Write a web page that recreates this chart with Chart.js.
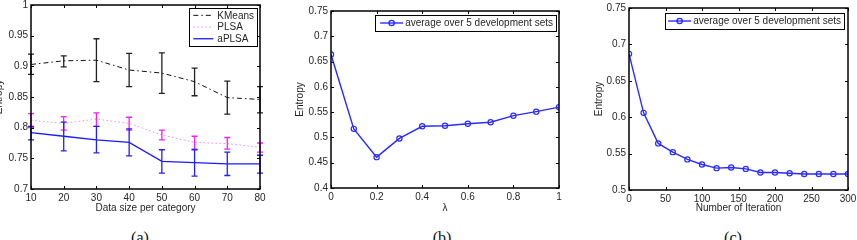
<!DOCTYPE html>
<html>
<head>
<meta charset="utf-8">
<script src="https://cdn.jsdelivr.net/npm/chart.js@4.4.1/dist/chart.umd.min.js"></script>
<style>
  body { margin: 0; background: #fff; width: 857px; height: 240px; overflow: hidden; position: relative; }
  .panel { position: absolute; top: 0; height: 215px; }
  .cap { position: absolute; top: 229px; font: 16px "Liberation Serif", "DejaVu Serif", serif; color: #111; transform: translateX(-50%); }
</style>
</head>
<body>
<div class="panel" style="left:-8px;width:278px"><canvas id="chartA"></canvas></div>
<div class="panel" style="left:280px;width:290px"><canvas id="chartB"></canvas></div>
<div class="panel" style="left:570px;width:287px"><canvas id="chartC"></canvas></div>
<div class="cap" style="left:140px">(a)</div>
<div class="cap" style="left:442px">(b)</div>
<div class="cap" style="left:733px">(c)</div>
<script>
// (a) entropy vs data size
const sizes = [10, 20, 30, 40, 50, 60, 70, 80];
const kmeansMean = [0.903, 0.909, 0.910, 0.894, 0.889, 0.875, 0.849, 0.846];
const kmeansLow  = [0.887, 0.899, 0.875, 0.867, 0.856, 0.852, 0.822, 0.824];
const kmeansHigh = [0.920, 0.917, 0.945, 0.921, 0.922, 0.897, 0.876, 0.867];
const plsaMean = [0.812, 0.807, 0.814, 0.807, 0.788, 0.776, 0.774, 0.768];
const plsaLow  = [0.800, 0.796, 0.802, 0.796, 0.780, 0.765, 0.765, 0.760];
const plsaHigh = [0.823, 0.818, 0.824, 0.817, 0.796, 0.786, 0.784, 0.775];
const aplsaMean = [0.792, 0.786, 0.780, 0.776, 0.745, 0.743, 0.741, 0.741];
const aplsaLow  = [0.780, 0.762, 0.759, 0.754, 0.726, 0.721, 0.722, 0.726];
const aplsaHigh = [0.802, 0.809, 0.802, 0.798, 0.764, 0.764, 0.760, 0.755];
const xTicksA = [10, 20, 30, 40, 50, 60, 70, 80];
const yTicksA = [0.7, 0.75, 0.8, 0.85, 0.9, 0.95, 1];

// (b) entropy vs lambda
const lambdas = [0, 0.1, 0.2, 0.3, 0.4, 0.5, 0.6, 0.7, 0.8, 0.9, 1];
const lambdaEntropy = [0.664, 0.517, 0.461, 0.498, 0.522, 0.523, 0.527, 0.530, 0.543, 0.551, 0.560];
const xTicksB = [0, 0.2, 0.4, 0.6, 0.8, 1];
const yTicksB = [0.4, 0.45, 0.5, 0.55, 0.6, 0.65, 0.7, 0.75];

// (c) entropy vs iterations
const iterations = [0, 20, 40, 60, 80, 100, 120, 140, 160, 180, 200, 220, 240, 260, 280, 300];
const iterEntropy = [0.687, 0.606, 0.564, 0.552, 0.542, 0.535, 0.530, 0.531, 0.529, 0.524, 0.524, 0.523, 0.522, 0.522, 0.522, 0.522];
const xTicksC = [0, 50, 100, 150, 200, 250, 300];
const yTicksC = [0.5, 0.55, 0.6, 0.65, 0.7, 0.75];

const FONT = { family: '"Liberation Sans", Arial, sans-serif', size: 10 };
const INK = '#262626';
const BLUE = '#2b2bff';

const pts = (xs, ys) => xs.map((x, i) => ({ x: x, y: ys[i] }));
const fmt = v => String(Number(v.toFixed(2)));

// box + inward ticks, matlab style
const framePlugin = {
  id: 'frame',
  afterDatasetsDraw(chart) {
    const { ctx, chartArea: a, scales } = chart;
    ctx.save();
    ctx.strokeStyle = '#000';
    ctx.lineWidth = 1.5;
    ctx.strokeRect(Math.round(a.left), Math.round(a.top), Math.round(a.right - a.left), Math.round(a.bottom - a.top));
    ctx.lineWidth = 1;
    ctx.beginPath();
    scales.x.ticks.forEach(t => {
      const px = Math.round(scales.x.getPixelForValue(t.value)) + 0.5;
      ctx.moveTo(px, a.bottom); ctx.lineTo(px, a.bottom - 3);
      ctx.moveTo(px, a.top); ctx.lineTo(px, a.top + 3);
    });
    scales.y.ticks.forEach(t => {
      const py = Math.round(scales.y.getPixelForValue(t.value)) + 0.5;
      ctx.moveTo(a.left, py); ctx.lineTo(a.left + 3, py);
      ctx.moveTo(a.right, py); ctx.lineTo(a.right - 3, py);
    });
    ctx.stroke();
    ctx.restore();
  }
};

// vertical error bars from errLow / errHigh
const errorBarPlugin = {
  id: 'errbars',
  afterDatasetsDraw(chart) {
    const { ctx, scales } = chart;
    chart.data.datasets.forEach(ds => {
      if (!ds.errLow) return;
      ctx.save();
      ctx.strokeStyle = ds.errColor;
      ctx.lineWidth = 1.3;
      ctx.beginPath();
      ds.data.forEach((p, i) => {
        const x = scales.x.getPixelForValue(p.x);
        const y0 = scales.y.getPixelForValue(ds.errLow[i]);
        const y1 = scales.y.getPixelForValue(ds.errHigh[i]);
        ctx.moveTo(x, y0); ctx.lineTo(x, y1);
        ctx.moveTo(x - 3, y0); ctx.lineTo(x + 3, y0);
        ctx.moveTo(x - 3, y1); ctx.lineTo(x + 3, y1);
      });
      ctx.stroke();
      ctx.restore();
    });
  }
};

// legend box in the top right corner
const boxLegendPlugin = {
  id: 'boxLegend',
  afterDraw(chart, args, opts) {
    const { ctx, chartArea: a } = chart;
    const items = chart.data.datasets;
    ctx.save();
    ctx.font = FONT.size + 'px ' + FONT.family;
    const tw = Math.max(...items.map(d => ctx.measureText(d.label).width));
    const right = a.right - opts.insetX;
    const top = a.top + opts.insetY;
    const textLeft = right - 3 - tw;
    const sRight = textLeft - opts.gap;
    const sLeft = sRight - opts.sample;
    const left = sLeft - opts.padL;
    const bottom = top + opts.padT * 2 + opts.rowH * items.length;
    ctx.fillStyle = '#fff';
    ctx.fillRect(left, top, right - left, bottom - top);
    ctx.strokeStyle = '#000';
    ctx.lineWidth = 1;
    ctx.strokeRect(Math.round(left) + 0.5, Math.round(top) + 0.5, Math.round(right - left), Math.round(bottom - top));
    items.forEach((d, i) => {
      const y = top + opts.padT + opts.rowH * (i + 0.5);
      ctx.strokeStyle = d.borderColor;
      ctx.lineWidth = d.borderWidth;
      ctx.setLineDash(d.borderDash || []);
      ctx.beginPath(); ctx.moveTo(sLeft, y); ctx.lineTo(sRight, y); ctx.stroke();
      ctx.setLineDash([]);
      if (d.pointRadius) {
        ctx.beginPath();
        ctx.arc((sLeft + sRight) / 2, y, d.pointRadius, 0, Math.PI * 2);
        ctx.stroke();
      }
      ctx.fillStyle = INK;
      ctx.textBaseline = 'middle';
      ctx.fillText(d.label, textLeft, y + 0.5);
    });
    ctx.restore();
  }
};

function makeChart(id, cfg) {
  return new Chart(document.getElementById(id), {
    type: 'line',
    data: { datasets: cfg.datasets },
    plugins: [errorBarPlugin, framePlugin, boxLegendPlugin],
    options: {
      responsive: true,
      maintainAspectRatio: false,
      animation: false,
      layout: { padding: cfg.padding },
      plugins: {
        legend: { display: false },
        tooltip: { enabled: false },
        boxLegend: cfg.legend
      },
      scales: {
        x: {
          type: 'linear',
          min: cfg.xTicks[0], max: cfg.xTicks[cfg.xTicks.length - 1],
          grid: { display: false, drawTicks: false },
          border: { display: false },
          afterBuildTicks: s => { s.ticks = cfg.xTicks.map(v => ({ value: v })); },
          afterFit: s => { s.height = cfg.xHeight; s.paddingLeft = 0; s.paddingRight = 0; },
          ticks: { font: FONT, color: INK, padding: 3, maxRotation: 0, callback: fmt },
          title: { display: true, text: cfg.xTitle, font: FONT, color: INK, padding: { top: 0, bottom: 1 } }
        },
        y: {
          min: cfg.yTicks[0], max: cfg.yTicks[cfg.yTicks.length - 1],
          grid: { display: false, drawTicks: false },
          border: { display: false },
          afterBuildTicks: s => { s.ticks = cfg.yTicks.map(v => ({ value: v })); },
          afterFit: s => { s.width = cfg.yWidth; s.paddingTop = 0; s.paddingBottom = 0; },
          ticks: { font: FONT, color: INK, padding: 3, callback: fmt },
          title: { display: true, text: 'Entropy', font: FONT, color: INK, padding: { top: cfg.yTitlePad, bottom: 0 } }
        }
      }
    }
  });
}

makeChart('chartA', {
  padding: { left: 0, right: 10, top: 5, bottom: 0 },
  yWidth: 39, xHeight: 26, yTitlePad: 1,
  xTicks: xTicksA, yTicks: yTicksA, xTitle: 'Data size per category',
  legend: { insetX: 3, insetY: 3, padT: 1.5, rowH: 11.7, sample: 20, gap: 4, padL: 4 },
  datasets: [
    { label: 'KMeans', data: pts(sizes, kmeansMean), borderColor: '#111', borderWidth: 1, borderDash: [5, 3, 1.5, 3],
      pointRadius: 0, errLow: kmeansLow, errHigh: kmeansHigh, errColor: '#222' },
    { label: 'PLSA', data: pts(sizes, plsaMean), borderColor: '#f08cf0', borderWidth: 1, borderDash: [1.5, 2.5],
      pointRadius: 0, errLow: plsaLow, errHigh: plsaHigh, errColor: '#ee22ee' },
    { label: 'aPLSA', data: pts(sizes, aplsaMean), borderColor: '#1a1aff', borderWidth: 1.3,
      pointRadius: 0, errLow: aplsaLow, errHigh: aplsaHigh, errColor: '#2222ee' }
  ]
});

makeChart('chartB', {
  padding: { left: 10, right: 11, top: 11, bottom: 0 },
  yWidth: 41, xHeight: 27, yTitlePad: 4,
  xTicks: xTicksB, yTicks: yTicksB, xTitle: 'λ',
  legend: { insetX: 3, insetY: 4, padT: 1, rowH: 14, sample: 23, gap: 2, padL: 5 },
  datasets: [
    { label: 'average over 5 development sets', data: pts(lambdas, lambdaEntropy), borderColor: BLUE, borderWidth: 1.4,
      pointRadius: 2.6, pointBorderColor: BLUE, pointBackgroundColor: 'rgba(0,0,0,0)', pointBorderWidth: 1.2 }
  ]
});

makeChart('chartC', {
  padding: { left: 19, right: 9, top: 8, bottom: 0 },
  yWidth: 40, xHeight: 25, yTitlePad: 4,
  xTicks: xTicksC, yTicks: yTicksC, xTitle: 'Number of Iteration',
  legend: { insetX: 4, insetY: 5, padT: 1, rowH: 14, sample: 23, gap: 2, padL: 3 },
  datasets: [
    { label: 'average over 5 development sets', data: pts(iterations, iterEntropy), borderColor: BLUE, borderWidth: 1.4,
      pointRadius: 2.6, pointBorderColor: BLUE, pointBackgroundColor: 'rgba(0,0,0,0)', pointBorderWidth: 1.2 }
  ]
});
</script>
</body>
</html>
